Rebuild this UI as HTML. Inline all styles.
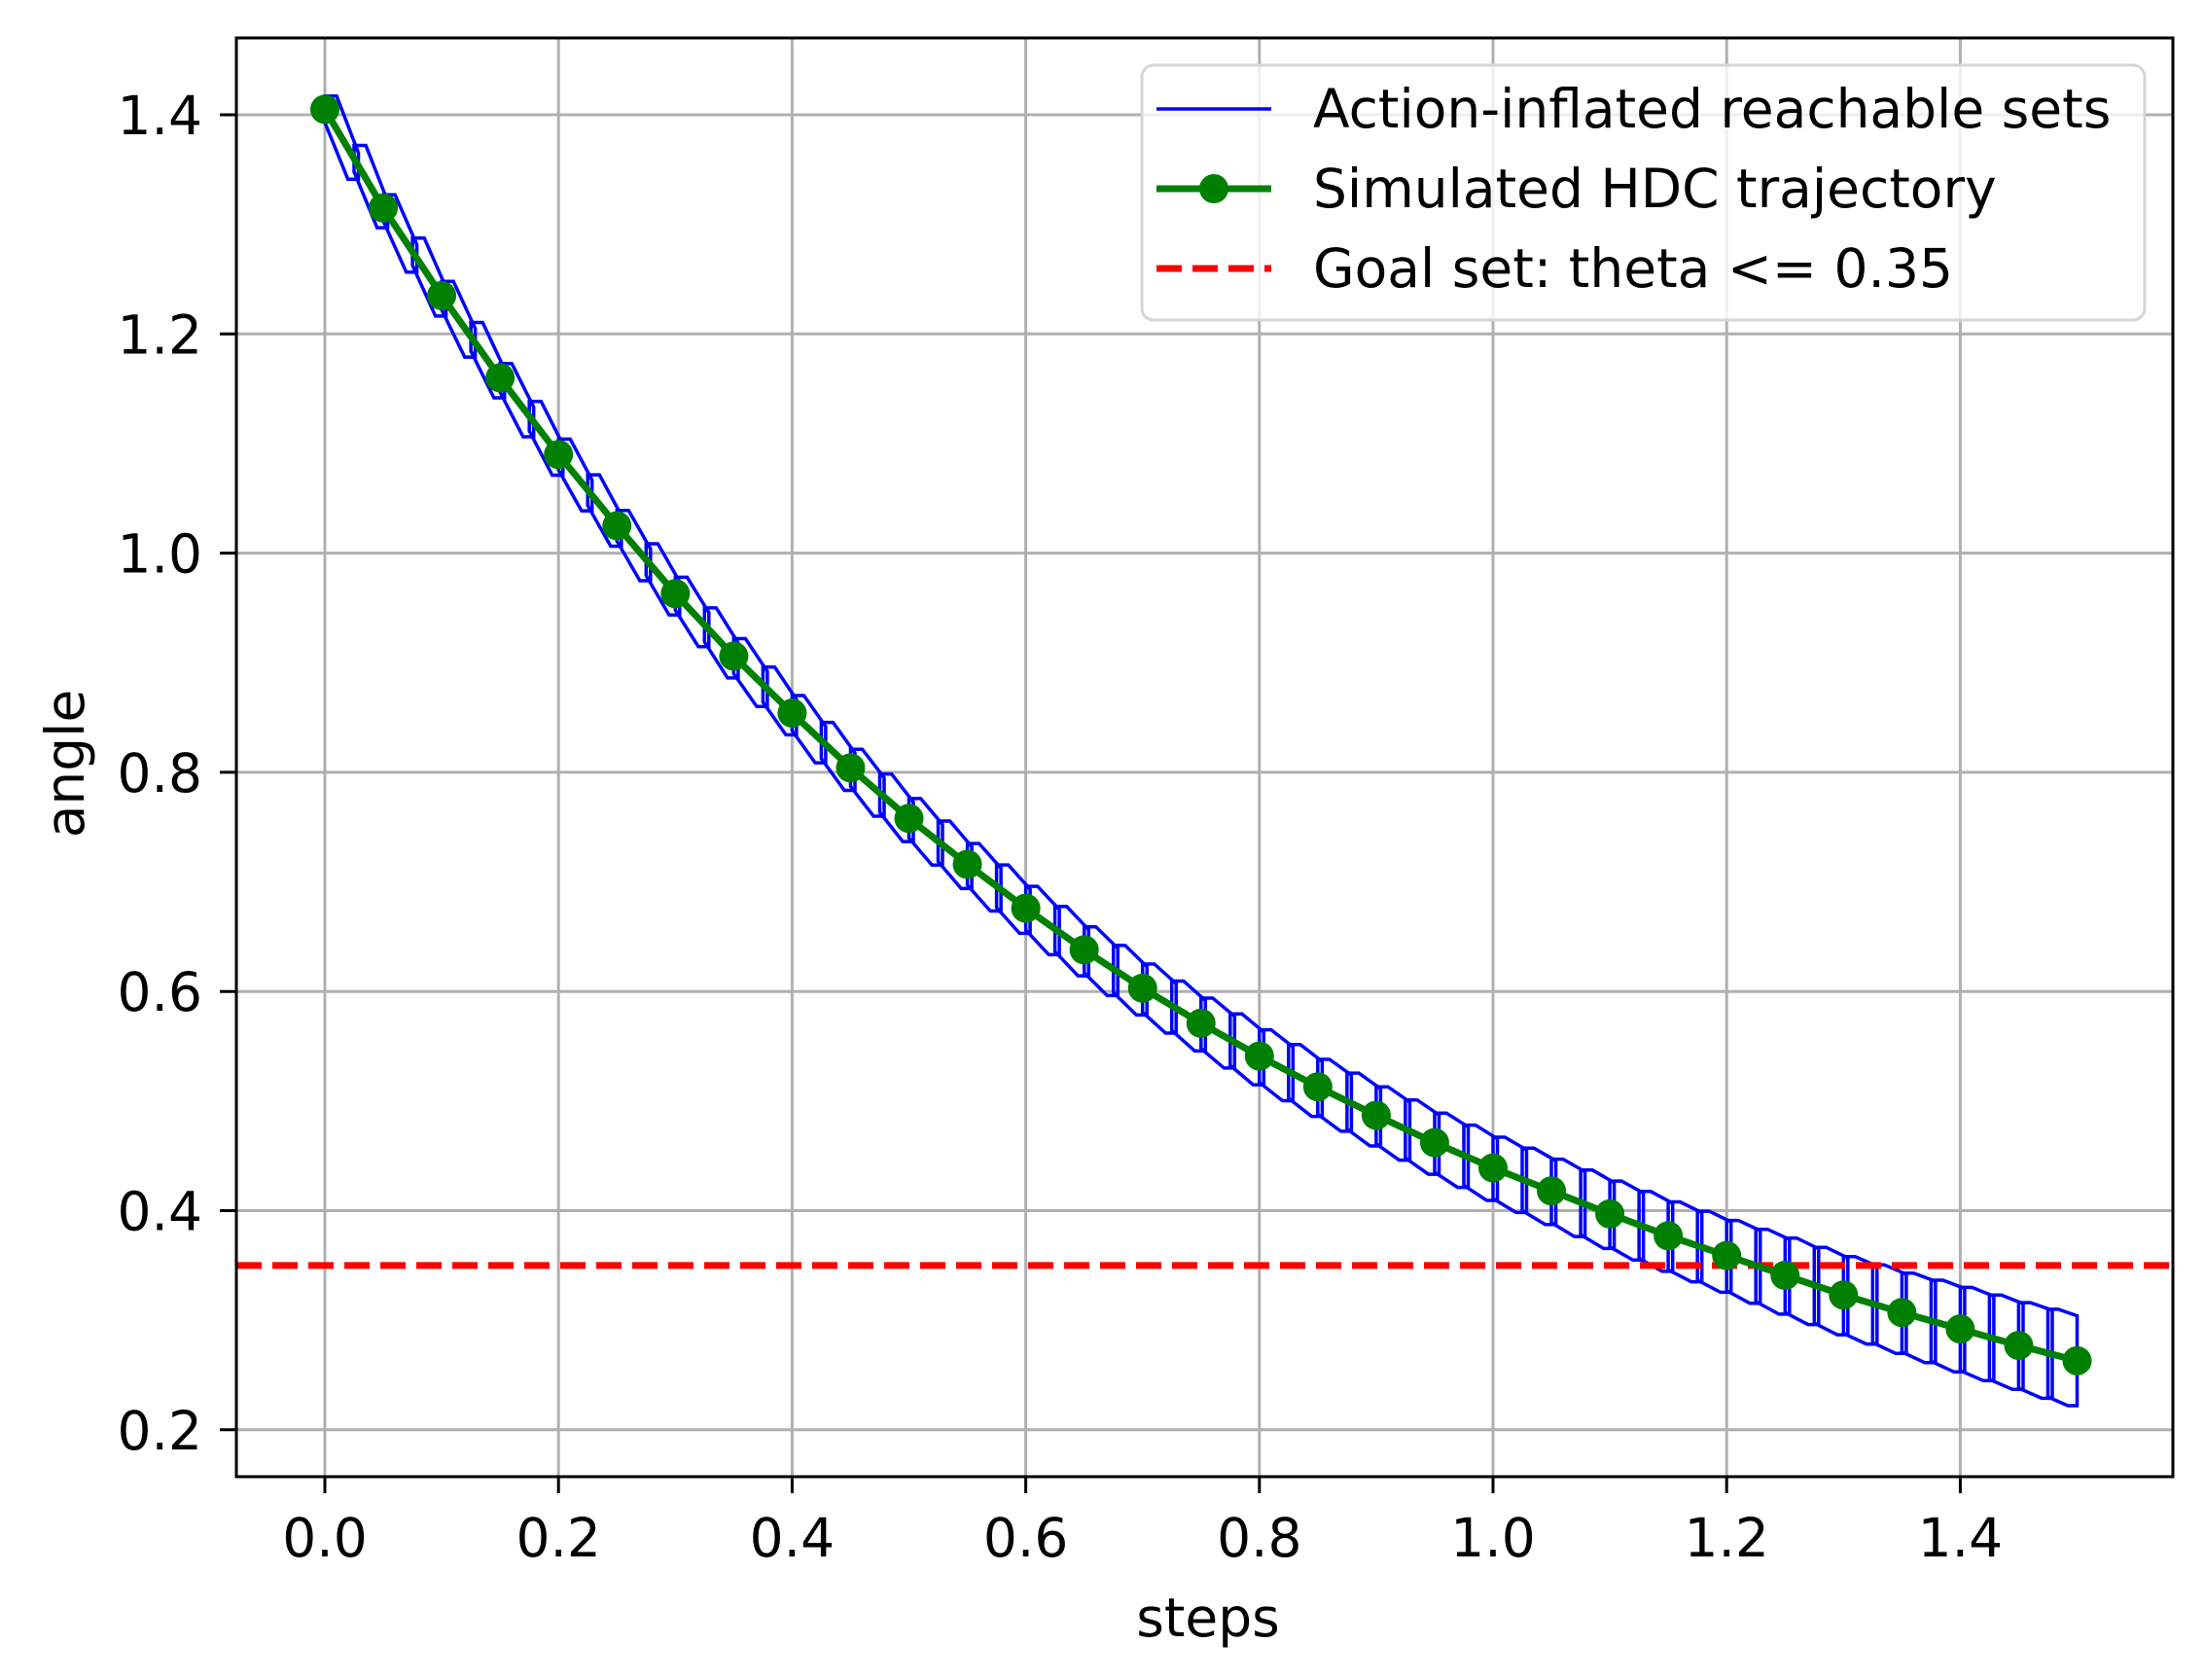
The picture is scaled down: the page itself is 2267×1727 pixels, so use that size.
<!DOCTYPE html>
<html><head><meta charset="utf-8"><style>
html,body{margin:0;padding:0;background:#fff;}
svg{display:block;font-family:"DejaVu Sans","Liberation Sans",sans-serif;}
</style></head><body>
<svg id="chart" width="2267" height="1727" viewBox="0 0 2267 1727" xmlns="http://www.w3.org/2000/svg">
<rect x="0" y="0" width="2267" height="1727" fill="#fff"/>
<g id="grid"></g>
<g id="sets"></g>
<g id="goal"></g>
<g id="traj"></g>
<rect x="243" y="39" width="1991" height="1479" fill="none" stroke="#000" stroke-width="3"/>
<g id="ticks"></g>
<text x="1242" y="1682" font-size="55" text-anchor="middle">steps</text>
<text x="0" y="0" font-size="55" text-anchor="middle" transform="translate(86,785) rotate(-90)">angle</text>
<g>
<rect x="1174" y="67" width="1031" height="262" rx="12" fill="#fff" fill-opacity="0.8" stroke="#d5d5d5" stroke-width="3"/>
<line x1="1189" y1="112" x2="1307" y2="112" stroke="#0000ff" stroke-width="3.5"/>
<text x="1350" y="131" font-size="55">Action-inflated reachable sets</text>
<line x1="1189" y1="194" x2="1307" y2="194" stroke="#008000" stroke-width="7"/>
<circle cx="1248" cy="194" r="15" fill="#008000"/>
<text x="1350" y="213" font-size="55">Simulated HDC trajectory</text>
<line x1="1189" y1="276" x2="1307" y2="276" stroke="#ff0000" stroke-width="7" stroke-dasharray="26,11"/>
<text x="1350" y="295" font-size="55">Goal set: theta &lt;= 0.35</text>
</g>
</svg>
<script>
const steps = [0,0.05,0.1,0.15,0.2,0.25,0.3,0.35,0.4,0.45,0.5,0.55,0.6,0.65,0.7,0.75,0.8,0.85,0.9,0.95,1.0,1.05,1.1,1.15,1.2,1.25,1.3,1.35,1.4,1.45,1.5];
const angles = [1.405,1.315,1.235,1.16,1.09,1.025,0.963,0.906,0.854,0.804,0.758,0.716,0.676,0.638,0.603,0.571,0.541,0.513,0.487,0.462,0.439,0.418,0.397,0.377,0.359,0.341,0.323,0.307,0.292,0.277,0.263];
const halfWidths = [0.012,0.012,0.013,0.013,0.014,0.014,0.015,0.016,0.016,0.017,0.018,0.019,0.020,0.021,0.022,0.023,0.024,0.025,0.026,0.027,0.028,0.029,0.030,0.031,0.032,0.034,0.035,0.036,0.038,0.039,0.041];
const goalTheta = 0.35;
const xTicks = [0.0,0.2,0.4,0.6,0.8,1.0,1.2,1.4];
const yTicks = [0.2,0.4,0.6,0.8,1.0,1.2,1.4];
const xTickLabels = ["0.0","0.2","0.4","0.6","0.8","1.0","1.2","1.4"];
const yTickLabels = ["0.2","0.4","0.6","0.8","1.0","1.2","1.4"];

const NS="http://www.w3.org/2000/svg";
const X0=243,X1=2234,Y0=39,Y1=1518;
function xs(v){return 334+v*1201;}
function ys(v){return 118+(1.4-v)*1126.5;}
function mk(tag,attrs,parent){const e=document.createElementNS(NS,tag);for(const k in attrs)e.setAttribute(k,attrs[k]);parent.appendChild(e);return e;}
const grid=document.getElementById('grid'),ticks=document.getElementById('ticks');
xTicks.forEach((t,i)=>{
  const g=mk('line',{x1:xs(t),x2:xs(t),y1:Y0,y2:Y1,stroke:'#b0b0b0','stroke-width':3},grid);
  
  
  const tk=mk('line',{x1:xs(t),x2:xs(t),y1:Y1,y2:Y1+17,stroke:'#000','stroke-width':3},ticks);
  
  
  const lb=mk('text',{x:xs(t),y:1600,'font-size':55,'text-anchor':'middle'},ticks);
  lb.textContent=xTickLabels[i];
  
  
});
yTicks.forEach((t,i)=>{
  const g=mk('line',{x1:X0,x2:X1,y1:ys(t),y2:ys(t),stroke:'#b0b0b0','stroke-width':3},grid);
  
  
  const tk=mk('line',{x1:X0-17,x2:X0,y1:ys(t),y2:ys(t),stroke:'#000','stroke-width':3},ticks);
  
  
  const lb=mk('text',{x:208,y:ys(t)+20,'font-size':55,'text-anchor':'end'},ticks);
  lb.textContent=yTickLabels[i];
  
  
});
const sets=document.getElementById('sets');
function interp(arr,t){
  if(t<=steps[0])return arr[0];
  for(let i=0;i<steps.length-1;i++){if(t<=steps[i+1]){const f=(t-steps[i])/(steps[i+1]-steps[i]);return arr[i]+f*(arr[i+1]-arr[i]);}}
  return arr[arr.length-1];
}
const last=steps[steps.length-1];
for(let i=0;i<steps.length-1;i++){
  for(let h=0;h<2;h++){
    const dt=(steps[i+1]-steps[i])/2;
    const t0=steps[i]+h*dt, t1=Math.min(t0+dt*1.15,last);
    const c0=interp(angles,t0),c1=interp(angles,t1);
    const w0=interp(halfWidths,t0),w1=interp(halfWidths,t1);
    const px0=xs(t0),px1=xs(t1),a=(px1-px0)*0.35;
    const pts=[[px0,ys(c0+w0)],[px0+a,ys(c0+w0)],[px1,ys(c1+w1)],[px1,ys(c1-w1)],[px1-a*0.9,ys(c1-w1)],[px0,ys(c0-w0)]];
    const p=mk('polygon',{points:pts.map(q=>q[0].toFixed(1)+','+q[1].toFixed(1)).join(' '),fill:'none',stroke:'#0000ff','stroke-width':3.5,'stroke-linejoin':'miter'},sets);
    
    
  }
}
const goal=document.getElementById('goal');
const gl=mk('line',{x1:X0,x2:X1,y1:ys(goalTheta),y2:ys(goalTheta),stroke:'#ff0000','stroke-width':7,'stroke-dasharray':'26,11'},goal);


const traj=document.getElementById('traj');
const pl=mk('polyline',{points:steps.map((t,i)=>xs(t).toFixed(1)+','+ys(angles[i]).toFixed(1)).join(' '),fill:'none',stroke:'#008000','stroke-width':7,'stroke-linejoin':'round'},traj);


steps.forEach((t,i)=>{
  const c=mk('circle',{cx:xs(t),cy:ys(angles[i]),r:15,fill:'#008000'},traj);
  
  
});
</script>
</body></html>
